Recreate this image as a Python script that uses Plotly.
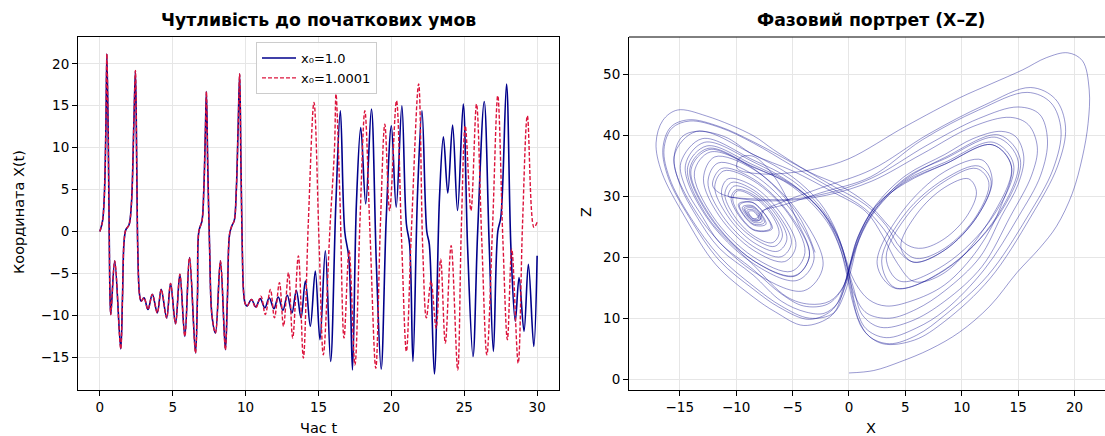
import plotly.graph_objects as go

# ---------------- time series ----------------
t_blue = [0.0, 0.18, 0.30, 0.41, 0.48, 0.57, 0.64, 0.70, 0.75, 1.02,
          1.43, 1.55, 1.66, 1.78, 2.00, 2.16, 2.33, 2.44, 2.53, 2.60,
          2.72, 2.83, 3.03, 3.30, 3.60, 3.94, 4.21, 4.58, 4.85, 5.19,
          5.49, 5.83, 6.15, 6.56, 6.70, 6.79, 7.01, 7.13, 7.24, 7.31,
          7.40, 7.53, 7.69, 7.93, 8.27, 8.61, 8.75, 8.90, 9.06, 9.22,
          9.36, 9.48, 9.59, 9.68, 9.77, 9.86, 9.97, 10.10, 10.40, 10.70,
          11.00, 11.32, 11.62, 11.94, 12.24, 12.56, 12.86, 13.18, 13.48, 13.80,
          14.10, 14.44, 14.78, 15.10, 15.47, 15.83, 16.19, 16.50, 16.80, 17.08,
          17.33, 17.60, 17.90, 18.24, 18.63, 18.97, 19.30, 19.65, 20.00, 20.33,
          20.72, 21.03, 21.25, 21.48, 21.80, 22.10, 22.43, 22.60, 22.95, 23.30,
          23.57, 23.87, 24.20, 24.54, 24.93, 25.23, 25.60, 25.92, 26.37, 26.71,
          27.00, 27.30, 27.51, 27.90, 28.20, 28.50, 28.76, 29.10, 29.40, 29.77,
          30.00]
x_blue = [0.0, 1.2, 4.0, 12.0, 21.2, 12.0, 0.0, -8.0, -9.9, -3.5,
          -14.0, -8.0, -1.2, 0.2, 0.8, 3.2, 12.8, 19.2, 8.0, -2.0,
          -7.5, -8.3, -7.9, -9.3, -7.5, -9.7, -6.9, -10.3, -6.2, -11.0,
          -5.1, -12.5, -3.1, -14.5, -7.5, 0.0, 1.3, 4.9, 12.0, 16.7,
          8.0, -2.0, -10.0, -12.1, -3.5, -14.1, -8.0, -0.3, 0.7, 1.3,
          4.9, 12.0, 18.8, 8.0, -2.0, -7.2, -8.6, -8.9, -8.1, -9.0,
          -8.0, -9.1, -7.9, -9.2, -7.8, -9.4, -7.6, -9.7, -7.0, -10.3,
          -5.9, -11.3, -4.7, -12.9, -2.3, -15.5, 3.3, 14.4, 0.0, -3.1,
          -16.5, 3.3, 12.4, 3.3, 14.6, -3.9, -16.4, 1.7, 12.6, 2.9,
          15.0, 0.9, -1.5, -15.5, 4.8, 14.4, 0.0, -1.5, -17.0, 4.0,
          11.3, 4.6, 12.7, 2.5, 15.2, -1.9, -14.9, 0.0, 15.5, -1.5,
          -14.3, 0.0, 1.7, 17.6, -1.9, -10.7, -5.5, -11.9, -3.9, -13.7,
          -2.9]

t_red = [0.0, 0.18, 0.30, 0.41, 0.48, 0.57, 0.64, 0.70, 0.75, 1.02,
         1.43, 1.55, 1.66, 1.78, 2.00, 2.16, 2.33, 2.44, 2.53, 2.60,
         2.72, 2.83, 3.03, 3.30, 3.60, 3.94, 4.21, 4.58, 4.85, 5.19,
         5.49, 5.83, 6.15, 6.56, 6.70, 6.79, 7.01, 7.13, 7.24, 7.31,
         7.40, 7.53, 7.69, 7.93, 8.27, 8.61, 8.75, 8.90, 9.06, 9.22,
         9.36, 9.48, 9.59, 9.68, 9.77, 9.86, 9.97, 10.10, 10.40, 10.70,
         11.05, 11.35, 11.70, 11.98, 12.32, 12.60, 12.94, 13.23, 13.62, 13.96,
         14.30, 14.69, 15.05, 15.33, 15.80, 16.10, 16.20, 16.47, 16.75, 17.10,
         17.50, 17.85, 18.18, 18.53, 18.93, 19.25, 19.55, 19.88, 20.35, 20.70,
         21.03, 21.37, 21.87, 22.15, 22.40, 22.72, 23.07, 23.38, 23.70, 24.10,
         24.55, 24.80, 25.07, 25.46, 25.84, 26.20, 26.55, 26.95, 27.30, 27.65,
         27.96, 28.26, 28.70, 29.00, 29.33, 29.78, 30.00]
x_red = [0.0, 1.2, 4.0, 12.0, 21.2, 12.0, 0.0, -8.0, -9.9, -3.5,
         -14.0, -8.0, -1.2, 0.2, 0.8, 3.2, 12.8, 19.2, 8.0, -2.0,
         -7.5, -8.3, -7.9, -9.3, -7.5, -9.7, -6.9, -10.3, -6.2, -11.0,
         -5.1, -12.5, -3.1, -14.5, -7.5, 0.0, 1.3, 4.9, 12.0, 16.7,
         8.0, -2.0, -10.0, -12.1, -3.5, -14.1, -8.0, -0.3, 0.7, 1.3,
         4.9, 12.0, 18.8, 8.0, -2.0, -7.2, -8.6, -8.9, -8.1, -9.1,
         -7.7, -9.9, -6.9, -10.3, -6.1, -11.3, -4.9, -12.7, -2.9, -15.1,
         1.0, 15.4, -1.9, -14.7, 0.9, 10.0, 16.4, 4.0, -12.7, -2.3,
         -15.9, 1.5, 14.4, 0.0, -16.3, 1.0, 12.8, 2.5, 15.6, -1.0,
         -14.3, 0.0, 17.6, -2.0, -10.3, -5.9, -11.5, -3.3, -13.3, -1.7,
         -16.5, 0.5, 12.6, 2.5, 15.2, -1.0, -14.7, 1.0, 16.2, -1.0,
         -12.9, -2.1, -15.7, 1.0, 13.8, 0.5, 1.1]

# ---------------- phase portrait points (X, Z) ----------------
phase_xz = [
    (0.0, 1.0), (2.2, 1.4), (4.5, 2.8), (7.2, 4.9), (9.8, 7.7), (12.5, 12.0), (14.9, 17.5),
    (16.9, 21.5), (18.4, 25.1), (19.8, 30.5), (20.7, 36.5), (21.2, 42.0), (21.3, 47.5),
    (20.7, 52.3), (19.4, 53.6), (17.5, 52.8), (15.4, 50.8), (12.6, 48.5), (9.8, 46.2),
    (5.0, 41.5), (0.0, 36.2), (-2.8, 34.6), (-5.2, 33.9), (-7.8, 33.7), (-9.9, 34.6),
    (-9.7, 36.3), (-8.5, 36.6), (-6.6, 33.2), (-4.6, 26.0), (-3.5, 20.3), (-4.8, 16.9),
    (-8.5, 19.5), (-12.3, 26.8), (-14.0, 34.4), (-12.4, 37.7), (-8.5, 34.8),
    (-5.0, 31.8), (-2.3, 27.2), (-0.9, 22.2), (-0.2, 17.2), (0.4, 12.2), (1.3, 8.0),
    (3.0, 5.8), (5.8, 6.4), (8.5, 9.5), (12.5, 16.5), (16.1, 26.6), (18.5, 35.0),
    (19.2, 41.4), (18.3, 46.0), (16.1, 47.9),
    (12.0, 45.0), (7.0, 40.2), (2.0, 34.4), (-2.5, 31.4), (-6.0, 29.0), (-7.6, 27.6),
    (-7.9, 26.2), (-8.5, 26.0), (-9.3, 28.1), (-8.5, 28.3), (-7.5, 25.7), (-8.5, 25.5),
    (-9.7, 28.6), (-8.5, 29.0), (-6.9, 24.8), (-8.5, 24.6), (-10.3, 29.4), (-9.9, 30.9),
    (-8.5, 30.0), (-6.9, 27.1), (-6.2, 23.9), (-6.8, 22.4), (-8.5, 23.6), (-10.2, 26.9),
    (-11.0, 30.4), (-10.4, 32.3), (-8.5, 31.1), (-6.3, 27.1), (-5.1, 22.4), (-6.0, 20.1),
    (-8.5, 21.8), (-11.2, 26.8), (-12.5, 32.4), (-11.6, 35.5), (-8.5, 33.6), (-4.9, 27.2),
    (-3.1, 19.7), (-4.6, 16.2), (-8.5, 19.0), (-12.7, 26.8), (-14.5, 35.1), (-12.8, 38.9),
    (-8.5, 35.7),
    (-5.0, 32.0), (-2.6, 28.0), (-1.2, 24.0), (-0.4, 20.0), (0.4, 15.0), (1.2, 10.5),
    (2.8, 8.5), (5.5, 9.5), (8.5, 12.8), (11.8, 18.5), (14.3, 26.7), (16.2, 33.5),
    (16.7, 38.1), (15.9, 41.8), (14.3, 43.0),
    (11.0, 41.5), (6.5, 37.0), (2.0, 32.5), (-2.0, 30.2), (-6.0, 29.3), (-9.5, 29.6),
    (-11.5, 30.6), (-12.1, 31.9), (-11.3, 34.6), (-8.5, 32.9), (-5.3, 27.2), (-3.5, 20.3),
    (-4.8, 17.0), (-8.5, 19.5), (-12.4, 26.8), (-14.1, 34.6), (-12.5, 37.9), (-8.5, 34.9),
    (-5.0, 31.6), (-2.0, 26.0), (-0.6, 20.5), (0.2, 14.5), (0.8, 10.0), (1.8, 7.0),
    (3.6, 5.8), (6.0, 7.2), (8.5, 10.5), (12.3, 17.0), (15.8, 26.6), (18.1, 34.5),
    (18.8, 40.9), (17.9, 45.4), (15.8, 47.1),
    (11.5, 44.2), (6.5, 39.3), (1.9, 33.2), (-2.5, 30.6), (-5.8, 28.6), (-7.7, 27.6),
    (-8.1, 26.5), (-8.5, 26.4), (-8.9, 27.5), (-8.5, 27.6), (-8.0, 26.3), (-8.5, 26.3),
    (-9.05, 27.7), (-8.5, 27.8), (-7.85, 26.15), (-8.5, 26.1), (-9.2, 27.9), (-8.5, 28.1),
    (-7.7, 25.9), (-8.5, 25.8), (-9.45, 28.25), (-8.5, 28.45), (-7.35, 25.45), (-8.5, 25.35),
    (-9.8, 28.75), (-8.5, 28.95), (-6.8, 24.7), (-8.5, 24.5), (-10.45, 29.5),
    (-10.0, 31.1), (-8.5, 30.3), (-6.7, 27.0), (-5.9, 23.5), (-6.6, 21.8), (-8.5, 23.2),
    (-10.5, 26.9), (-11.3, 30.8), (-10.7, 32.9), (-8.5, 31.7), (-6.0, 27.1), (-4.7, 21.9),
    (-5.7, 19.3), (-8.5, 21.2), (-11.5, 26.8), (-12.9, 32.9), (-11.9, 36.5), (-8.5, 34.5),
    (-4.4, 27.2), (-2.3, 18.6), (-4.0, 14.5), (-8.5, 17.7), (-13.3, 26.7), (-15.5, 36.5),
    (-13.5, 40.7), (-8.5, 36.9),
    (-5.0, 33.2), (-2.6, 29.0), (-1.3, 25.0), (-0.5, 21.0), (0.5, 16.0), (1.8, 13.0),
    (3.3, 12.0), (5.5, 12.8), (8.5, 15.5), (11.5, 21.5), (13.5, 28.5), (14.4, 35.0),
    (12.7, 38.5), (8.5, 35.3),
    (5.0, 32.4), (2.6, 28.5), (1.2, 24.5), (0.4, 20.5), (-0.4, 15.5), (-1.4, 11.5),
    (-3.5, 9.8), (-6.2, 11.8), (-8.5, 14.8), (-11.5, 19.5), (-14.2, 26.7), (-16.0, 33.0),
    (-16.5, 37.8), (-15.8, 41.4), (-14.2, 42.6), (-11.5, 41.5), (-8.5, 39.0),
    (-5.0, 35.5), (-1.5, 31.8), (1.5, 28.6), (3.3, 25.2), (4.6, 21.5), (6.0, 19.8),
    (8.5, 21.5), (11.3, 26.8), (12.4, 32.3), (11.3, 34.6), (8.5, 32.5), (5.3, 27.2),
    (3.3, 20.0), (4.5, 16.1), (8.5, 18.8), (12.8, 26.8), (14.6, 35.2), (12.8, 38.9),
    (8.5, 35.6),
    (5.0, 32.6), (2.4, 27.8), (0.9, 22.9), (0.2, 18.0), (-0.4, 14.0), (-1.4, 10.8),
    (-3.5, 10.0), (-6.0, 12.0), (-8.5, 15.3), (-11.4, 20.0), (-14.1, 26.7), (-15.9, 33.0),
    (-16.4, 37.7), (-15.7, 41.2), (-14.1, 42.4), (-11.4, 41.3), (-8.5, 38.8),
    (-5.0, 35.0), (-1.5, 31.3), (1.4, 28.0), (3.1, 24.6), (4.4, 21.0), (5.8, 19.2),
    (8.5, 21.2), (11.4, 26.8), (12.6, 32.5), (11.5, 35.0), (8.5, 32.9), (5.0, 27.2),
    (2.9, 19.4), (4.1, 15.0), (8.5, 17.9), (13.1, 26.7), (15.0, 35.8), (13.1, 39.7),
    (8.5, 36.2),
    (5.0, 33.0), (2.0, 27.0), (0.6, 21.5), (-0.2, 16.0), (-1.0, 12.5), (-2.2, 10.8),
    (-3.8, 11.0), (-6.0, 12.8), (-8.5, 17.1), (-11.5, 21.5), (-13.5, 26.7), (-15.0, 32.0),
    (-15.5, 36.5), (-14.8, 39.8), (-13.5, 40.7), (-11.0, 39.8), (-8.5, 36.9),
    (-5.0, 34.2), (-1.5, 30.8), (1.5, 27.5), (3.0, 23.5), (4.3, 19.0), (5.8, 16.0),
    (8.5, 17.5), (12.7, 26.8), (14.4, 35.0), (12.7, 38.5), (8.5, 35.3),
    (5.0, 32.2), (2.4, 28.5), (1.0, 24.0), (0.2, 19.5), (-0.5, 14.5), (-1.5, 10.5),
    (-4.0, 8.8), (-6.5, 11.0), (-8.5, 13.5), (-11.8, 18.8), (-14.5, 26.5), (-16.6, 34.0),
    (-17.1, 38.8), (-16.5, 42.5), (-15.2, 44.2), (-12.6, 43.2), (-8.5, 40.0),
    (-6.7, 37.7), (-3.5, 34.0), (-0.8, 31.8), (1.9, 28.4), (3.6, 25.0), (5.2, 22.0),
    (6.5, 21.5), (8.5, 23.1), (10.5, 26.9), (11.3, 30.8), (10.6, 32.9), (8.5, 31.5),
    (6.0, 27.1), (4.6, 21.7), (5.7, 19.2), (8.5, 21.2), (11.4, 26.8), (12.7, 32.7),
    (11.8, 36.0), (8.5, 34.1), (4.6, 27.2), (2.5, 18.9), (4.1, 14.9), (8.5, 18.0),
    (13.2, 26.7), (15.2, 36.0), (13.3, 40.1), (8.5, 36.4),
    (5.0, 32.8), (2.2, 27.9), (0.7, 22.9), (0.0, 18.3), (-0.6, 14.8), (-1.9, 12.3),
    (-4.0, 12.0), (-6.0, 14.0), (-8.5, 18.0), (-11.5, 22.5), (-13.0, 26.7), (-14.5, 31.5),
    (-14.9, 35.6), (-13.0, 39.5), (-8.5, 36.0),
    (-5.0, 32.6), (-2.3, 27.7), (-0.8, 22.7), (-0.1, 17.9), (0.5, 13.8), (1.6, 10.8),
    (3.6, 10.0), (6.0, 11.5), (8.5, 14.5), (11.6, 20.0), (13.5, 26.7), (15.0, 32.0),
    (15.5, 36.5), (14.8, 39.8), (13.5, 40.7), (11.0, 39.5), (8.5, 36.9),
    (5.0, 33.4), (2.3, 28.4), (0.8, 23.4), (0.1, 18.8), (-0.5, 15.2), (-1.7, 12.8),
    (-3.5, 12.3), (-5.5, 13.5), (-8.5, 18.8), (-12.6, 26.8), (-14.3, 34.8), (-12.6, 38.3),
    (-8.5, 35.2),
    (-5.0, 31.9), (-2.2, 27.1), (-0.7, 22.1), (0.0, 17.1), (0.6, 12.0), (1.5, 8.3),
    (3.3, 6.8), (6.0, 8.4), (8.5, 11.3), (12.0, 18.0), (15.0, 26.6), (17.0, 33.5),
    (17.6, 39.3), (16.9, 43.5), (15.0, 44.7),
    (11.5, 42.8), (7.0, 38.5), (2.0, 33.0), (-2.0, 30.5), (-5.5, 29.5), (-8.5, 29.6),
    (-10.1, 29.8), (-10.7, 30.0), (-10.2, 31.7), (-8.5, 30.7), (-6.5, 27.1), (-5.5, 23.0),
    (-6.3, 21.0), (-8.5, 22.5), (-10.8, 26.9), (-11.9, 31.6), (-11.1, 34.2), (-8.5, 32.6),
    (-5.4, 27.2), (-3.9, 20.8), (-5.1, 17.7), (-8.5, 20.1), (-12.1, 26.8), (-13.7, 34.0),
    (-12.3, 37.3), (-8.5, 34.6), (-4.6, 27.2), (-3.0, 20.8),
]
phase_x = [p[0] for p in phase_xz]
phase_z = [p[1] for p in phase_xz]

left_xticks = [0, 5, 10, 15, 20, 25, 30]
left_yticks = [-15, -10, -5, 0, 5, 10, 15, 20]
right_xticks = [-15, -10, -5, 0, 5, 10, 15, 20]
right_yticks = [0, 10, 20, 30, 40, 50]

FONT = "DejaVu Sans"
W, H = 1105, 436

fig = go.Figure()
fig.add_trace(go.Scatter(
    x=t_blue, y=x_blue, mode="lines", name="x₀=1.0",
    line=dict(color="#00008B", width=1.6, shape="spline", smoothing=1.0),
    xaxis="x", yaxis="y"))
fig.add_trace(go.Scatter(
    x=t_red, y=x_red, mode="lines", name="x₀=1.0001",
    line=dict(color="#DC143C", width=1.4, dash="4px,2px", shape="spline", smoothing=1.0),
    xaxis="x", yaxis="y"))
fig.add_trace(go.Scatter(
    x=phase_x, y=phase_z, mode="lines", showlegend=False,
    line=dict(color="rgba(0,0,139,0.5)", width=0.8, shape="spline", smoothing=1.0),
    xaxis="x2", yaxis="y2"))

grid = "#e6e6e6"
ax_common = dict(showgrid=True, gridcolor=grid, gridwidth=1, zeroline=False,
                 ticks="outside", ticklen=5, tickwidth=1, tickcolor="black",
                 tickfont=dict(family=FONT, size=13.5, color="black"),
                 showline=True, linecolor="black", linewidth=1)

ydom = [46 / H, 1 - 37 / H]
fig.update_layout(
    width=W, height=H, margin=dict(l=0, r=0, t=0, b=0),
    paper_bgcolor="white", plot_bgcolor="white",
    font=dict(family=FONT, color="black"),
    xaxis=dict(domain=[78 / W, 559 / W], range=[-1.5, 31.5], tickvals=left_xticks,
               anchor="y", mirror=True, **ax_common),
    yaxis=dict(domain=ydom, range=[-18.9, 23.2], tickvals=left_yticks,
               anchor="x", mirror=True, **ax_common),
    xaxis2=dict(domain=[629 / W, 1.0], range=[-19.5, 22.7], tickvals=right_xticks,
                anchor="y2", **ax_common),
    yaxis2=dict(domain=ydom, range=[-1.8, 56.2], tickvals=right_yticks,
                anchor="x2", **ax_common),
    legend=dict(x=256 / W, y=1 - 42 / H, xanchor="left", yanchor="top",
                bgcolor="rgba(255,255,255,0.85)", bordercolor="#cccccc", borderwidth=1,
                font=dict(family=FONT, size=13, color="black"),
                itemwidth=34, tracegroupgap=0),
    shapes=[dict(type="line", xref="x2 domain", yref="y2 domain", x0=0, x1=1, y0=1, y1=1,
                 line=dict(color="black", width=1))],
    annotations=[
        dict(text="<b>Чутливість до початкових умов</b>", x=318.5 / W, y=1 - 20 / H,
             xref="paper", yref="paper", showarrow=False, xanchor="center", yanchor="middle",
             font=dict(family=FONT, size=17.3, color="black")),
        dict(text="<b>Фазовий портрет (X–Z)</b>", x=871 / W, y=1 - 20 / H,
             xref="paper", yref="paper", showarrow=False, xanchor="center", yanchor="middle",
             font=dict(family=FONT, size=17.3, color="black")),
        dict(text="Час t", x=318.5 / W, y=1 - 428 / H, xref="paper", yref="paper",
             showarrow=False, xanchor="center", yanchor="middle",
             font=dict(family=FONT, size=14.5, color="black")),
        dict(text="Координата X(t)", x=19 / W, y=1 - 212 / H, xref="paper", yref="paper",
             showarrow=False, xanchor="center", yanchor="middle", textangle=-90,
             font=dict(family=FONT, size=14.5, color="black")),
        dict(text="X", x=871 / W, y=1 - 428 / H, xref="paper", yref="paper",
             showarrow=False, xanchor="center", yanchor="middle",
             font=dict(family=FONT, size=14.5, color="black")),
        dict(text="Z", x=586 / W, y=1 - 212 / H, xref="paper", yref="paper",
             showarrow=False, xanchor="center", yanchor="middle", textangle=-90,
             font=dict(family=FONT, size=14.5, color="black")),
    ],
)

fig.write_html("out.html", config={"displayModeBar": False},
               post_script="document.body.style.margin='0';")
